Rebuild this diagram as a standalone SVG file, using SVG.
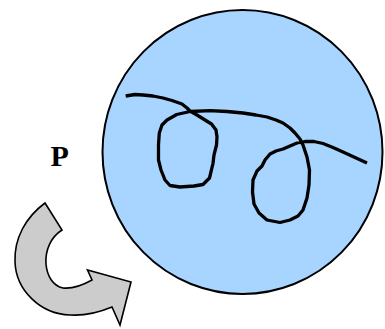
<svg xmlns="http://www.w3.org/2000/svg" width="385" height="329" viewBox="0 0 385 329">
<style>
.sphere{fill:#a8d5ff;stroke:#000;stroke-width:2}
.curve{fill:none;stroke:#000;stroke-width:3.3;stroke-linejoin:round;stroke-linecap:butt}
.arrow{fill:#cccccc;stroke:#000;stroke-width:1.6;stroke-linejoin:miter}
.lbl{font-family:"Liberation Serif","Times New Roman",serif;font-weight:bold;font-size:30px;fill:#000}
</style>
<rect width="385" height="329" fill="#fff"/>
<g id="sphere">
<ellipse class="sphere" cx="242.5" cy="152" rx="140" ry="142"/>
</g>
<g id="path-curve">
<polyline class="curve" points="125.7,96 135,94.5 143,95 153,96 163,98 172,100.5 182,104 187,108 190,111 197,115 205,120 211.5,124 216,130 217,137 216.5,145 214,155 213,163.3 209.5,178 203,184.5 194,186 180,187 170,185.5 165,180 161,170 158.5,160 158.5,145 159.3,133 162,125 167,120 176.7,114.5 190,111.5 210,110.7 227,111.5 243,113 256,115 267,117 276,120 283,123 290,128 295,133 300,139 303,145 307,157 309.5,170 309,185 307,198 303,210 298,216 290,220 280,222.5 267,220 259,213 254,204 252.5,192 253,180 257,171 262,166 265,160 270,154 276,151 283,149 290,146 297,143 305,141.5 314,141.5 323,143.5 333,147.5 343,152 355,157.5 367,163"/>
</g>
<g id="rotation-arrow">
<path class="arrow" d="M45,203 C26,217 14,238 15,262 C16,290 40,314 70,315 C85,316 100,312 112,307 L120,325 L131,282 L87.5,270 L92,280 C83,285 72,289 63,288 C53,286 47,276 46,264 C45,250 51,237 62,230 Z"/>
</g>
<g id="label-p">
<text class="lbl" x="50.5" y="166">P</text>
</g>
</svg>
